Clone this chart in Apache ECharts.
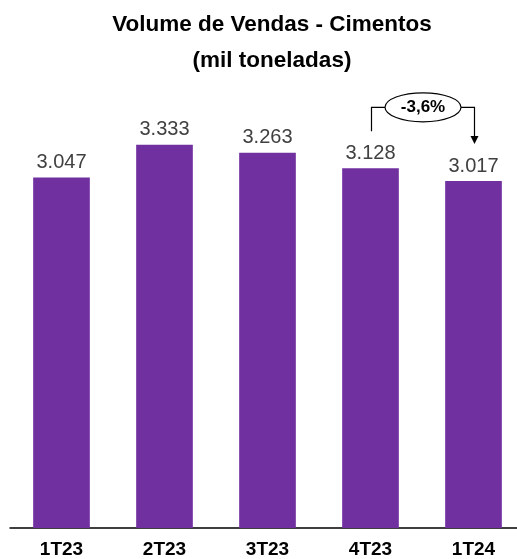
<!DOCTYPE html>
<html><head><meta charset="utf-8">
<script src="https://cdn.jsdelivr.net/npm/echarts@6/dist/echarts.min.js"></script>
<style>html,body{margin:0;padding:0;background:#fff;overflow:hidden}#c{width:530px;height:559px}</style>
</head><body><div id="c"></div>
<script>
var categories = ['1T23','2T23','3T23','4T23','1T24'];
var values = [3047, 3333, 3263, 3128, 3017];
var changeLabel = '-3,6%';
var titleText = 'Volume de Vendas - Cimentos\n(mil toneladas)';

function fmt(v){ var s=String(v); return s.slice(0,s.length-3)+'.'+s.slice(-3); }

var chart = echarts.init(document.getElementById('c'));
chart.setOption({
  animation:false,
  title:{text:titleText,left:267,top:2,textAlign:'center',
    textStyle:{fontFamily:'Liberation Sans',fontWeight:'bold',fontSize:22.5,lineHeight:36,color:'#000'}},
  grid:{left:10,width:515,top:68,bottom:29,containLabel:false},
  xAxis:{type:'category',data:categories,
    axisLine:{lineStyle:{color:'#000',width:1.5}},axisTick:{show:false},
    axisLabel:{margin:12,fontFamily:'Liberation Sans',fontWeight:'bold',fontSize:19,color:'#000'}},
  yAxis:{type:'value',min:0,max:4000,show:false,splitLine:{show:false}},
  series:[{type:'bar',data:values,barCategoryGap:'45%',
    itemStyle:{color:'#7030A0'},
    label:{show:true,position:'top',distance:5,formatter:function(p){return fmt(p.value);},
      fontFamily:'Liberation Sans',fontSize:20,color:'#404040'}}]
});

var p1 = chart.convertToPixel({gridIndex:0},[3, values[3]]);
var p2 = chart.convertToPixel({gridIndex:0},[4, values[4]]);
var yTop = Math.min(p1[1],p2[1]) - 61;
var cx = (p1[0]+p2[0])/2 + 1;
var rx = 38, ry = 14.5;
chart.setOption({graphic:[
  {type:'polyline',shape:{points:[[p1[0]+1,p1[1]-37],[p1[0]+1,yTop],[cx-rx,yTop]]},style:{stroke:'#000',lineWidth:1.2,fill:null}},
  {type:'polyline',shape:{points:[[cx+rx,yTop],[p2[0]+1,yTop],[p2[0]+1,p2[1]-40]]},style:{stroke:'#000',lineWidth:1.2,fill:null}},
  {type:'polygon',shape:{points:[[p2[0]-3,p2[1]-45],[p2[0]+5,p2[1]-45],[p2[0]+1,p2[1]-37]]},style:{fill:'#000'}},
  {type:'ellipse',shape:{cx:cx,cy:yTop,rx:rx,ry:ry},style:{fill:'#fff',stroke:'#000',lineWidth:1.2}},
  {type:'text',x:cx,y:yTop,style:{text:changeLabel,align:'center',verticalAlign:'middle',fontFamily:'Liberation Sans',fontWeight:'bold',fontSize:17,fill:'#000'}}
]});
</script></body></html>
